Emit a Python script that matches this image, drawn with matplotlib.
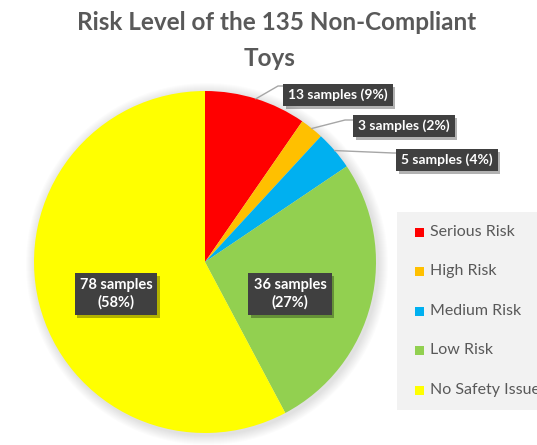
import matplotlib
matplotlib.use("Agg")
import matplotlib.pyplot as plt
import matplotlib.patheffects as pe
import numpy as np
from matplotlib.patches import Rectangle, Circle

categories = ["Serious Risk", "High Risk", "Medium Risk", "Low Risk", "No Safety Issue"]
samples = [13, 3, 5, 36, 78]
percents = [9, 2, 4, 27, 58]
colors = ["#FF0000", "#FFC000", "#00B0F0", "#92D050", "#FFFF00"]
title_line1 = "Risk Level of the 135 Non-Compliant"
title_line2 = "Toys"

W, H = 537, 445
fig = plt.figure(figsize=(W / 100, H / 100), dpi=100)
ax = fig.add_axes([0, 0, 1, 1])

FONT = ["Lato", "DejaVu Sans"]

def Y(yp):
    return H - yp

cx, cy, r = 205, Y(262), 171

# soft shadow
for i in range(10):
    ax.add_patch(Circle((cx + 2, cy - 2), r + 10 - i, color="black", alpha=0.012, lw=0, zorder=1))

wedges, _ = ax.pie(samples, colors=colors, startangle=90, counterclock=False,
                   center=(cx, cy), radius=r, frame=True,
                   wedgeprops=dict(linewidth=0))
for w in wedges:
    w.set_zorder(2)
ax.set_xlim(0, W)
ax.set_ylim(0, H)
ax.set_aspect("equal")
ax.axis("off")

# title
ax.text(277, Y(22), title_line1, ha="center", va="center",
        fontsize=17.5, fontweight="bold", color="#595959", family=FONT)
ax.text(270, Y(58), title_line2, ha="center", va="center",
        fontsize=17.5, fontweight="bold", color="#595959", family=FONT)

shadow = [pe.SimplePatchShadow(offset=(2, -2), shadow_rgbFace="black", alpha=0.3), pe.Normal()]

def box_label(x, y, txt, fs=10):
    t = ax.text(x, y, txt, ha="center", va="center", fontsize=fs, fontweight="bold",
                color="white", family=FONT, linespacing=1.3,
                bbox=dict(boxstyle="square,pad=0.35", fc="#404040", ec="none"), zorder=5)
    t.get_bbox_patch().set_path_effects(shadow)

# inside labels
box_label(116, Y(294), f"{samples[4]} samples\n({percents[4]}%)", fs=10.5)
box_label(290, Y(294), f"{samples[3]} samples\n({percents[3]}%)", fs=10.5)

# callouts for small slices: leader lines
total = sum(samples)
cum = np.cumsum([0] + samples)
line_ends = [((278, 86), (285, 86)), ((345, 120), (353, 120)), ((393, 153), (397, 153))]
box_centers = [(338, 95), (404, 126), (447, 160)]
for i in range(3):
    mid = (cum[i] + samples[i] / 2) / total * 360
    ang = np.deg2rad(90 - mid)
    sx, sy = cx + r * np.cos(ang), cy + r * np.sin(ang)
    (ex, ey), (bx, by) = line_ends[i]
    ax.plot([sx, ex, bx], [sy, Y(ey), Y(by)], color="#A6A6A6", lw=1, zorder=3)
    box_label(box_centers[i][0], Y(box_centers[i][1]), f"{samples[i]} samples ({percents[i]}%)")

# legend
ax.add_patch(Rectangle((397, Y(410)), 160, 198, fc="#F2F2F2", ec="none", zorder=3))
leg_y = [232, 271, 311, 350, 390]
for c, lab, yy in zip(colors, categories, leg_y):
    ax.add_patch(Rectangle((415, Y(yy) - 4.5), 9, 9, fc=c, ec="none", zorder=4))
    ax.text(430, Y(yy), lab, ha="left", va="center", fontsize=11.5, color="#595959",
            family=FONT, zorder=4)

fig.savefig("out.png", dpi=100)
